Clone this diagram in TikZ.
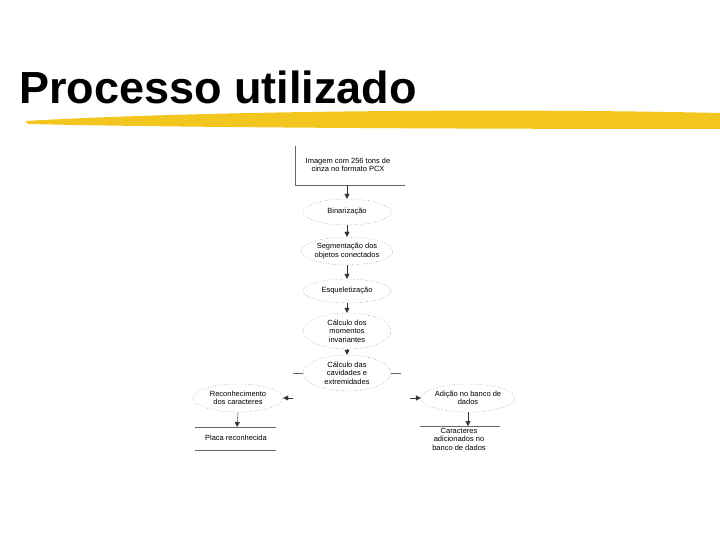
\documentclass[tikz,border=0pt]{standalone}
\usepackage{fontspec}
\setmainfont{Liberation Sans}
\usetikzlibrary{shapes.geometric,arrows.meta}
\definecolor{brush}{HTML}{F3C61F}
\begin{document}
\begin{tikzpicture}[x=1pt,y=-1pt,
  el/.style={ellipse,draw=black!70,dotted,minimum width=88,inner sep=0pt,align=center,font=\fontsize{7.5}{8.5}\selectfont},
  tx/.style={align=center,font=\fontsize{7.5}{8.5}\selectfont},
  ar/.style={-{Triangle[length=5,width=5]},black!80},
  ln/.style={black!60,line width=0.6}]
\useasboundingbox (0,0) rectangle (720,540);
\node[anchor=west,font=\bfseries\fontsize{45}{48}\selectfont,inner sep=0pt] (title) at (19,87) {Processo utilizado};
\fill[brush] (25,121) .. controls (200,111) and (500,108) .. (720,113) -- (720,129) .. controls (500,129) and (200,128) .. (28,124) -- cycle;
\node[tx] (img) at (348,165) {Imagem com 256 tons de\\cinza no formato PCX};
\draw[ln] (295,146) -- (295,185) -- (405,185);
\coordinate (imgb) at (347,185);
\node[el,minimum height=26] (bin) at (347,212) {Binarização};
\node[el,minimum height=28] (seg) at (347,251) {Segmentação dos\\objetos conectados};
\node[el,minimum height=24] (esq) at (347,291) {Esqueletização};
\node[el,minimum height=36] (mom) at (347,331) {Cálculo dos\\momentos\\invariantes};
\node[el,minimum height=36] (cav) at (347,373) {Cálculo das\\cavidades e\\extremidades};
\node[el,minimum width=90,minimum height=28] (rec) at (238,398) {Reconhecimento\\dos caracteres};
\node[el,minimum width=80,minimum height=28] (adi) at (468,398) {Adição no banco de\\dados};
\node[tx] (pla) at (236,438) {Placa reconhecida};
\draw[ln] (195,427) -- (276,427) (195,450) -- (276,450);
\coordinate (plat) at (237,427);
\node[tx] (car) at (459,439) {Caracteres\\adicionados no\\banco de dados};
\coordinate (cart) at (460,426);
\draw[ln] (420,426) -- (500,426);
\draw[ar] (imgb) -- (bin);
\draw[ar] (bin) -- (seg);
\draw[ar] (seg) -- (esq);
\draw[ar] (esq) -- (mom);
\draw[ar] (mom) -- (cav);
\coordinate (cl) at (293,398); \coordinate (cr) at (410,398);
\draw[ln] (cav.west) -- ++(-10,0);
\draw[ln] (cav.east) -- ++(10,0);
\draw[ar] (cl) -- (rec.east);
\draw[ar] (cr) -- (adi.west);
\draw[ar] (rec.south) -- (plat);
\draw[ar] (adi.south) -- (adi.south |- cart);
\end{tikzpicture}
\end{document}
